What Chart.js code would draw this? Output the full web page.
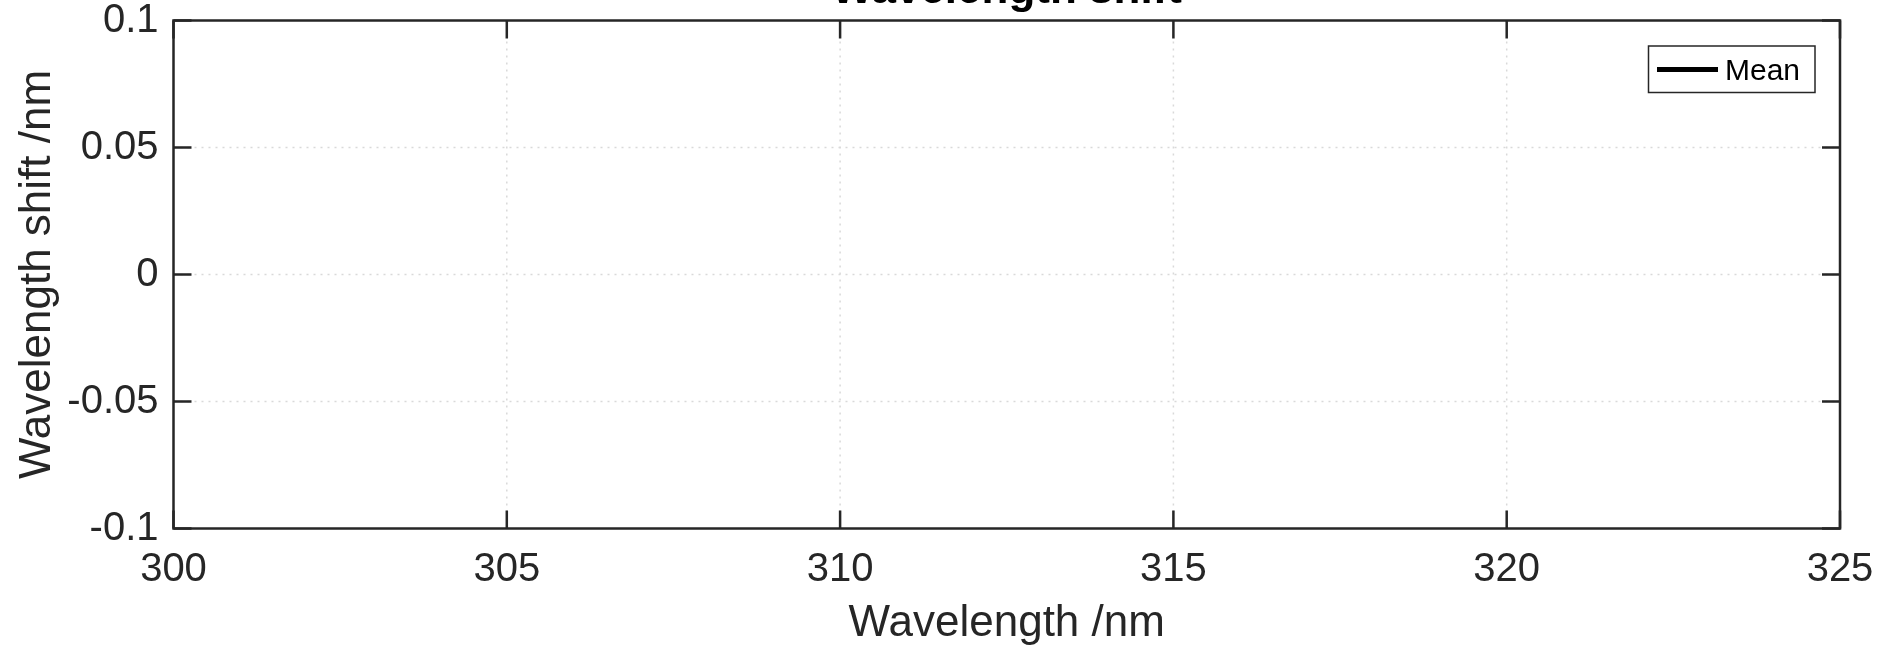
<!DOCTYPE html>
<html>
<head>
<meta charset="utf-8">
<title>Wavelength shift</title>
<script src="https://cdn.jsdelivr.net/npm/chart.js@4.4.0/dist/chart.umd.min.js"></script>
<style>
  html, body { margin: 0; padding: 0; background: #fff; }
  canvas { display: block; }
</style>
</head>
<body>
<canvas id="shiftChart" width="1892" height="645"></canvas>
<script>
// Data (the Mean trace has no plotted samples in this figure)
const wavelength = [];
const meanShift = [];
const xTicks = [300, 305, 310, 315, 320, 325];
const yTicks = [-0.1, -0.05, 0, 0.05, 0.1];
const yTickLabels = ['-0.1', '-0.05', '0', '0.05', '0.1'];
const seriesLabel = 'Mean';
const chartTitle = 'Wavelength shift';
const xTitle = 'Wavelength /nm';
const yTitle = 'Wavelength shift /nm';

const FONT = "'Liberation Sans', Arial, Helvetica, sans-serif";
const AXIS_COLOR = '#262626';
const TICK_LEN = 18;

Chart.defaults.font.family = FONT;

// MATLAB-like axes: dotted grid, boxed axes with inward ticks, boxed legend, clipped title
const matlabAxes = {
  id: 'matlabAxes',
  beforeDatasetsDraw(chart) {
    const { ctx, chartArea: a, scales: { x, y } } = chart;
    ctx.save();
    ctx.strokeStyle = '#d9d9d9';
    ctx.lineWidth = 1.5;
    ctx.setLineDash([2, 5]);
    x.ticks.forEach(t => {
      if (t.value === x.min || t.value === x.max) return;
      const px = x.getPixelForValue(t.value);
      ctx.beginPath(); ctx.moveTo(px, a.top); ctx.lineTo(px, a.bottom); ctx.stroke();
    });
    y.ticks.forEach(t => {
      if (t.value === y.min || t.value === y.max) return;
      const py = y.getPixelForValue(t.value);
      ctx.beginPath(); ctx.moveTo(a.left, py); ctx.lineTo(a.right, py); ctx.stroke();
    });
    ctx.restore();
  },
  afterDatasetsDraw(chart) {
    const { ctx, chartArea: a, scales: { x, y } } = chart;
    ctx.save();
    ctx.strokeStyle = AXIS_COLOR;
    ctx.lineWidth = 2.5;
    ctx.strokeRect(a.left, a.top, a.right - a.left, a.bottom - a.top);

    ctx.beginPath();
    x.ticks.forEach(t => {
      const px = x.getPixelForValue(t.value);
      ctx.moveTo(px, a.bottom); ctx.lineTo(px, a.bottom - TICK_LEN);
      ctx.moveTo(px, a.top); ctx.lineTo(px, a.top + TICK_LEN);
    });
    y.ticks.forEach(t => {
      const py = y.getPixelForValue(t.value);
      ctx.moveTo(a.left, py); ctx.lineTo(a.left + TICK_LEN, py);
      ctx.moveTo(a.right, py); ctx.lineTo(a.right - TICK_LEN, py);
    });
    ctx.stroke();

    // legend
    const ds = chart.data.datasets[0];
    const box = { l: 1648.5, t: 46, r: 1815, b: 92.5 };
    ctx.fillStyle = '#fff';
    ctx.fillRect(box.l, box.t, box.r - box.l, box.b - box.t);
    ctx.lineWidth = 1.5;
    ctx.strokeRect(box.l, box.t, box.r - box.l, box.b - box.t);
    ctx.strokeStyle = ds.borderColor;
    ctx.lineWidth = ds.borderWidth;
    ctx.beginPath(); ctx.moveTo(1657, 69.5); ctx.lineTo(1718, 69.5); ctx.stroke();
    ctx.fillStyle = '#000';
    ctx.font = '30px ' + FONT;
    ctx.textAlign = 'left';
    ctx.textBaseline = 'alphabetic';
    ctx.fillText(ds.label, 1725, 79.5);

    // title, mostly above the canvas edge
    ctx.font = 'bold 44px ' + FONT;
    ctx.textAlign = 'center';
    ctx.fillText(chartTitle, (a.left + a.right) / 2, 3);
    ctx.restore();
  }
};

new Chart(document.getElementById('shiftChart'), {
  type: 'line',
  data: {
    datasets: [{
      label: seriesLabel,
      data: wavelength.map((w, i) => ({ x: w, y: meanShift[i] })),
      borderColor: '#000',
      backgroundColor: '#000',
      borderWidth: 5,
      pointRadius: 0
    }]
  },
  options: {
    responsive: false,
    animation: false,
    devicePixelRatio: 1,
    layout: { padding: { left: 0, top: 20.5, right: 52, bottom: 0 } },
    plugins: {
      legend: { display: false },
      tooltip: { enabled: false },
      title: { display: false }
    },
    scales: {
      x: {
        type: 'linear',
        min: 300,
        max: 325,
        afterBuildTicks: s => { s.ticks = xTicks.map(v => ({ value: v })); },
        afterFit: s => { s.height = 116.5; s.paddingLeft = 0; s.paddingRight = 0; },
        grid: { display: false },
        border: { display: false },
        ticks: {
          color: AXIS_COLOR,
          font: { size: 40, lineHeight: 1 },
          padding: 13,
          maxRotation: 0,
          autoSkip: false,
          callback: v => String(v)
        },
        title: {
          display: true,
          text: xTitle,
          color: AXIS_COLOR,
          font: { size: 44, lineHeight: 0.95 },
          padding: { top: 0, bottom: 0 }
        }
      },
      y: {
        type: 'linear',
        min: -0.1,
        max: 0.1,
        afterBuildTicks: s => { s.ticks = yTicks.map(v => ({ value: v })); },
        afterFit: s => { s.width = 173.5; s.paddingTop = 0; s.paddingBottom = 0; },
        grid: { display: false },
        border: { display: false },
        ticks: {
          color: AXIS_COLOR,
          font: { size: 40, lineHeight: 1 },
          padding: 7,
          autoSkip: false,
          callback: v => yTickLabels[yTicks.indexOf(v)]
        },
        title: {
          display: true,
          text: yTitle,
          color: AXIS_COLOR,
          font: { size: 44, lineHeight: 1 },
          padding: { top: 16, bottom: 0 }
        }
      }
    }
  },
  plugins: [matlabAxes]
});
</script>
</body>
</html>
